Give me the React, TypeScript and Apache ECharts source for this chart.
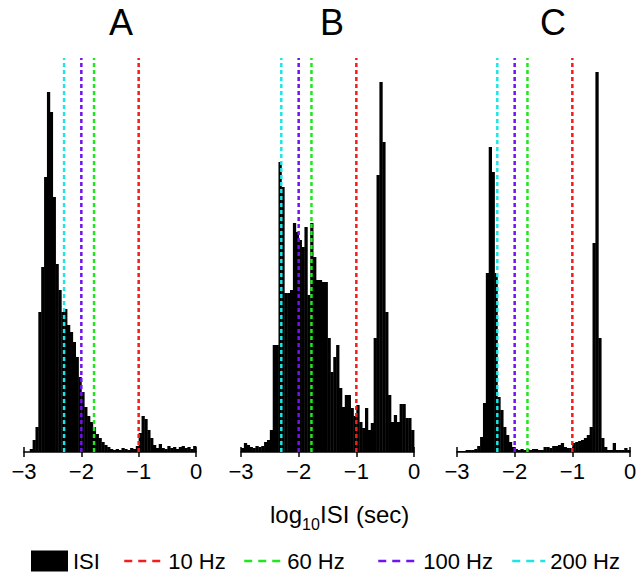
import React, { useEffect, useRef } from "react";
import * as echarts from "echarts";

// ---- data ----
const binStart = -3;
const binWidth = 0.05;
const panelTitles = ["A", "B", "C"];
// ISI histogram counts (arbitrary units), 60 bins of 0.05 log10(sec) from -3 to 0
const isiA = [
  0, 0, 3, 12, 25, 140, 185, 275, 360, 340,
  255, 188, 162, 140, 143, 127, 120, 110, 95, 75,
  60, 45, 36, 30, 25, 18, 14, 10, 7, 5,
  3, 2, 3, 2, 4, 3, 2, 4, 3, 6,
  19, 36, 33, 22, 14, 7, 4, 8, 4, 3,
  6, 4, 5, 3, 5, 6, 4, 5, 3, 6,
];
const isiB = [
  4, 9, 7, 5, 4, 6, 5, 6, 10, 12,
  22, 107, 107, 290, 265, 159, 159, 162, 229, 220,
  212, 205, 225, 157, 229, 195, 172, 172, 170, 170,
  114, 80, 95, 107, 64, 45, 57, 57, 44, 36,
  47, 30, 24, 44, 22, 29, 114, 277, 370, 310,
  140, 57, 30, 37, 30, 48, 48, 34, 34, 22,
];
const isiC = [
  1, 1, 1, 2, 2, 2, 3, 6, 15, 49,
  179, 305, 280, 179, 55, 42, 25, 17, 10, 5,
  3, 2, 3, 2, 3, 2, 3, 3, 2, 2,
  5, 5, 4, 6, 6, 7, 9, 5, 4, 4,
  9, 10, 11, 12, 14, 17, 25, 209, 380, 114,
  14, 5, 2, 2, 9, 2, 2, 2, 4, 2,
];
const panelCounts = [isiA, isiB, isiC];
const freqHz = [10, 60, 100, 200];
const freqNames = ["10 Hz", "60 Hz", "100 Hz", "200 Hz"];
const freqColors = ["#f21d1d", "#1de81d", "#7013ee", "#1de5e5"];
const xMin = -3;
const xMax = 0;
const xInterval = 1;

// ---- layout ----
const FONT = "'Liberation Sans', Arial, Helvetica, sans-serif";
const gridBoxes = [
  { left: 24, width: 172, titleX: 121 },
  { left: 241, width: 173, titleX: 332 },
  { left: 457, width: 173, titleX: 553 },
];
const GRID_TOP = 58;
const GRID_H = 394;
const Y_MAX = 394;

export default function App() {
  const ref = useRef<HTMLDivElement>(null);

  useEffect(() => {
    if (!ref.current) return;
    const chart = echarts.init(ref.current, null, { renderer: "svg" });

    const grid: any[] = [];
    const xAxis: any[] = [];
    const yAxis: any[] = [];
    const series: any[] = [];

    gridBoxes.forEach((g, i) => {
      grid.push({ left: g.left, top: GRID_TOP, width: g.width, height: GRID_H, containLabel: false });
      xAxis.push({
        gridIndex: i,
        type: "value",
        min: xMin,
        max: xMax,
        interval: xInterval,
        position: "bottom",
        axisLine: { show: true, onZero: false, lineStyle: { color: "#000", width: 1.5 } },
        axisTick: { show: true, length: 5, lineStyle: { color: "#000", width: 1.5 } },
        axisLabel: {
          fontSize: 22,
          fontFamily: FONT,
          color: "#000",
          margin: 8,
          formatter: (v: number) => (v < 0 ? "\u2212" + Math.abs(v) : String(v)),
        },
        splitLine: { show: false },
      });
      xAxis.push({
        gridIndex: i,
        type: "value",
        min: xMin,
        max: xMax,
        interval: xInterval,
        position: "bottom",
        axisLine: { show: false, onZero: false },
        axisTick: { show: true, inside: true, length: 5, lineStyle: { color: "#000", width: 1.5 } },
        axisLabel: { show: false },
        splitLine: { show: false },
      });
      yAxis.push({ gridIndex: i, type: "value", min: 0, max: Y_MAX, show: false });

      const counts = panelCounts[i];
      const bins = counts.map((c, k) => [
        binStart + k * binWidth,
        binStart + (k + 1) * binWidth,
        c,
      ]);
      series.push({
        type: "custom",
        name: "ISI",
        xAxisIndex: 2 * i,
        yAxisIndex: i,
        data: bins,
        encode: { x: [0, 1], y: 2 },
        itemStyle: { color: "#000" },
        z: 2,
        silent: true,
        renderItem: (params: any, api: any) => {
          const x0 = api.value(0);
          const x1 = api.value(1);
          const h = api.value(2);
          if (!h) return null;
          const p0 = api.coord([x0, h]);
          const p1 = api.coord([x1, 0]);
          return {
            type: "rect",
            shape: { x: p0[0], y: p0[1], width: p1[0] - p0[0] + 0.4, height: p1[1] - p0[1] },
            style: { fill: "#000" },
          };
        },
      });

      freqHz.forEach((f, k) => {
        const x = Math.log10(1 / f);
        series.push({
          type: "line",
          name: freqNames[k],
          xAxisIndex: 2 * i,
          yAxisIndex: i,
          data: [
            [x, 0],
            [x, Y_MAX],
          ],
          symbol: "none",
          silent: true,
          z: 3,
          itemStyle: { color: freqColors[k] },
          lineStyle: { color: freqColors[k], width: 2.5, type: [4, 3] },
        });
      });
    });

    const legendBase = {
      top: 550,
      padding: 0,
      itemHeight: 21,
      selectedMode: false,
      textStyle: { fontSize: 22, fontFamily: FONT, color: "#000", padding: [0, 0, 0, 0] },
    };
    const lineLegend = {
      ...legendBase,
      lineStyle: { type: [8, 6], width: 2.5 },
      itemStyle: { opacity: 0 },
    };
    const legend = [
      { ...legendBase, left: 31, itemWidth: 37, data: [{ name: "ISI", icon: "rect" }] },
      { ...lineLegend, left: 123, itemWidth: 39, data: ["10 Hz"] },
      { ...lineLegend, left: 243, itemWidth: 38, data: ["60 Hz"] },
      { ...lineLegend, left: 377, itemWidth: 40, data: ["100 Hz"] },
      { ...lineLegend, left: 511, itemWidth: 33, data: ["200 Hz"] },
    ];

    const graphic: any[] = panelTitles.map((t, i) => ({
      type: "text",
      x: gridBoxes[i].titleX,
      y: 22,
      style: {
        text: t,
        fontSize: 36,
        fontFamily: FONT,
        fill: "#000",
        align: "center",
        verticalAlign: "middle",
      },
    }));
    graphic.push(
      {
        type: "text",
        x: 270,
        y: 514,
        style: { text: "log", fontSize: 24, fontFamily: FONT, fill: "#000", align: "left", verticalAlign: "middle" },
      },
      {
        type: "text",
        x: 302,
        y: 524,
        style: { text: "10", fontSize: 16, fontFamily: FONT, fill: "#000", align: "left", verticalAlign: "middle" },
      },
      {
        type: "text",
        x: 320,
        y: 514,
        style: { text: "ISI (sec)", fontSize: 24, fontFamily: FONT, fill: "#000", align: "left", verticalAlign: "middle" },
      }
    );

    chart.setOption({
      animation: false,
      backgroundColor: "#fff",
      grid,
      xAxis,
      yAxis,
      series,
      legend,
      graphic,
    });

    return () => chart.dispose();
  }, []);

  return <div ref={ref} style={{ position: "fixed", left: 0, top: 0, width: 640, height: 581 }} />;
}
